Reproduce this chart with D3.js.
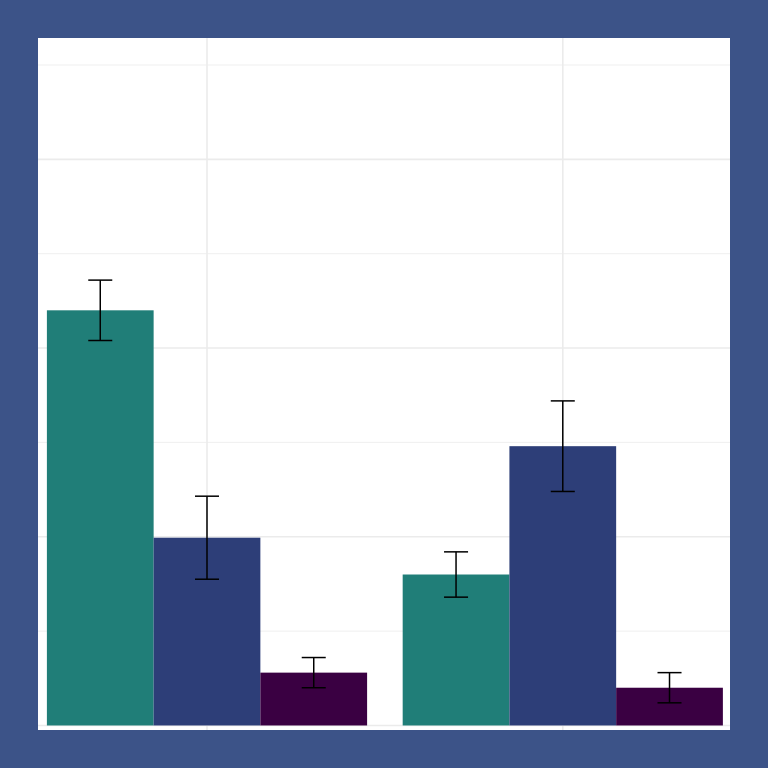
<!DOCTYPE html>
<html><head><meta charset="utf-8">
<script src="https://cdn.jsdelivr.net/npm/d3@7"></script>
<style>html,body{margin:0;padding:0;background:#3c5388;}</style>
</head><body>
<script>
const groups = ["A", "B"];
const series = ["s1", "s2", "s3"];
const values = [[22.0, 9.95, 2.8], [8.0, 14.8, 2.0]];
const errors = [[1.6, 2.2, 0.8], [1.2, 2.4, 0.8]];
const colors = ["#207e78", "#2d3e78", "#3a0042"];
const majorTicks = [0, 10, 20, 30];
const minorTicks = [5, 15, 25, 35];

const W = 768, H = 768;
const panel = {x0: 38, x1: 730, y0: 38, y1: 730};
const svg = d3.select("body").append("svg").attr("width", W).attr("height", H);
svg.append("rect").attr("width", W).attr("height", H).attr("fill", "#3c5388");
svg.append("rect").attr("x", panel.x0).attr("y", panel.y0)
  .attr("width", panel.x1 - panel.x0).attr("height", panel.y1 - panel.y0).attr("fill", "#ffffff");

const x = d3.scaleLinear().domain([0.525, 2.47]).range([panel.x0, panel.x1]);
const y = d3.scaleLinear().domain([-0.24, 36.43]).range([panel.y1, panel.y0]);
const g = svg.append("g");

g.selectAll("line.minor").data(minorTicks).join("line")
  .attr("x1", panel.x0).attr("x2", panel.x1).attr("y1", d => y(d)).attr("y2", d => y(d))
  .attr("stroke", "#ebebeb").attr("stroke-width", 0.8);
g.selectAll("line.major").data(majorTicks).join("line")
  .attr("x1", panel.x0).attr("x2", panel.x1).attr("y1", d => y(d)).attr("y2", d => y(d))
  .attr("stroke", "#ebebeb").attr("stroke-width", 1.6);
g.selectAll("line.vmajor").data(groups).join("line")
  .attr("x1", (d, i) => x(i + 1)).attr("x2", (d, i) => x(i + 1))
  .attr("y1", panel.y0).attr("y2", panel.y1)
  .attr("stroke", "#ebebeb").attr("stroke-width", 1.6);

const dodge = 0.9, bw = dodge / series.length;
const rows = [];
groups.forEach((gr, gi) => series.forEach((s, si) => {
  rows.push({gi, si, v: values[gi][si], e: errors[gi][si], cx: gi + 1 - dodge / 2 + bw * (si + 0.5)});
}));

g.selectAll("rect.bar").data(rows).join("rect")
  .attr("x", d => x(d.cx - bw / 2)).attr("width", d => x(d.cx + bw / 2) - x(d.cx - bw / 2))
  .attr("y", d => y(d.v)).attr("height", d => y(0) - y(d.v))
  .attr("fill", d => colors[d.si]);

const capHalf = bw * 0.225 / 2;
const eb = g.selectAll("g.err").data(rows).join("g").attr("stroke", "#000").attr("stroke-width", 1.5);
eb.append("line").attr("x1", d => x(d.cx)).attr("x2", d => x(d.cx))
  .attr("y1", d => y(d.v + d.e)).attr("y2", d => y(d.v - d.e));
eb.append("line").attr("x1", d => x(d.cx - capHalf)).attr("x2", d => x(d.cx + capHalf))
  .attr("y1", d => y(d.v + d.e)).attr("y2", d => y(d.v + d.e));
eb.append("line").attr("x1", d => x(d.cx - capHalf)).attr("x2", d => x(d.cx + capHalf))
  .attr("y1", d => y(d.v - d.e)).attr("y2", d => y(d.v - d.e));
</script>
</body></html>
